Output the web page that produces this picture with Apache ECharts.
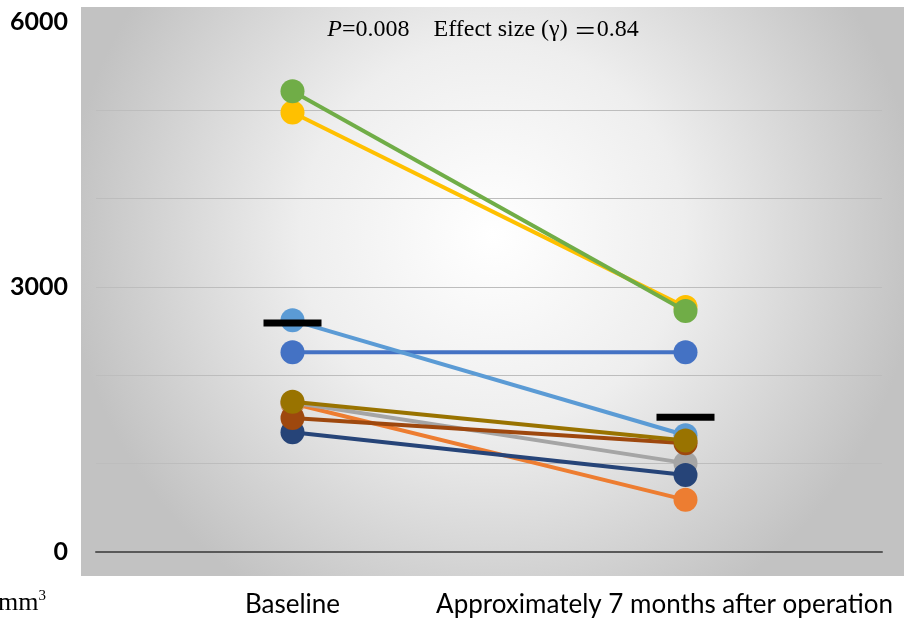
<!DOCTYPE html>
<html>
<head>
<meta charset="utf-8">
<script src="https://cdn.jsdelivr.net/npm/echarts@6/dist/echarts.min.js"></script>
<style>html,body{margin:0;padding:0;background:#fff}#c{width:904px;height:620px}</style>
</head>
<body>
<div id="c"></div>
<script>
const categories = ['Baseline', 'Approximately 7 months after operation'];
const yTicks = [0, 3000, 6000];
const seriesColors = ['#4472C4', '#ED7D31', '#A5A5A5', '#FFC000', '#5B9BD5', '#70AD47', '#264478', '#9E480E', '#997300'];
const s1 = [2260, 2260];
const s2 = [1680, 590];
const s3 = [1690, 1005];
const s4 = [4970, 2770];
const s5 = [2620, 1320];
const s6 = [5210, 2725];
const s7 = [1355, 870];
const s8 = [1515, 1230];
const s9 = [1700, 1260];
const means = [2590, 1525];
const titleP = 'P';
const titleA = '=0.008    Effect size (γ) ';
const titleB = '＝';
const titleC = '0.84';
const unitText = 'mm';

const allSeries = [s1, s2, s3, s4, s5, s6, s7, s8, s9];
const SANS = 'Lato, "Open Sans", sans-serif';
const SERIF = '"Liberation Serif", "Noto Sans CJK JP", serif';

const chart = echarts.init(document.getElementById('c'), null, {renderer: 'canvas'});
const series = allSeries.map((d, i) => ({
  type: 'line',
  data: d,
  symbol: 'circle',
  symbolSize: 24,
  showSymbol: true,
  lineStyle: {width: 4, color: seriesColors[i]},
  itemStyle: {color: seriesColors[i]},
  z: 2 + i * 0.01
}));
series.push({
  type: 'scatter',
  data: means,
  symbol: 'rect',
  symbolSize: [58, 7],
  itemStyle: {color: '#000', opacity: 1},
  z: 5
});

chart.setOption({
  animation: false,
  backgroundColor: '#fff',
  graphic: [
    {
      type: 'rect', left: 81, top: 7, z: -100,
      shape: {width: 823, height: 569},
      style: {
        fill: new echarts.graphic.RadialGradient(0.5, 0.4, 0.75, [
          {offset: 0, color: '#ffffff'},
          {offset: 0.45, color: '#eeeeee'},
          {offset: 1, color: '#c2c2c2'}
        ])
      }
    },
    {
      type: 'text', left: -2, top: 589, z: 10,
      style: {
        text: '{a|' + unitText + '}{s|3}',
        rich: {
          a: {fontFamily: SERIF, fontSize: 26, fill: '#000', color: '#000'},
          s: {fontFamily: SERIF, fontSize: 15, verticalAlign: 'top', fill: '#000', color: '#000', padding: [0, 0, 14, 0]}
        }
      }
    }
  ],
  title: {
    text: '{i|' + titleP + '}{r|' + titleA + '}{c|' + titleB + '}{r|' + titleC + '}',
    left: 478,
    textAlign: 'center',
    top: 13,
    textStyle: {
      fontWeight: 'normal',
      rich: {
        i: {fontFamily: SERIF, fontStyle: 'italic', fontWeight: 'normal', fontSize: 24, color: '#000'},
        r: {fontFamily: SERIF, fontWeight: 'normal', fontSize: 24, color: '#000'},
        c: {fontFamily: '"Noto Sans CJK JP", serif', fontWeight: 'normal', fontSize: 23, color: '#000'}
      }
    }
  },
  grid: {left: 96, right: 22, top: 21.5, bottom: 68, containLabel: false},
  xAxis: {
    type: 'category',
    data: categories,
    boundaryGap: true,
    axisLine: {show: true, lineStyle: {color: '#595959', width: 2}},
    axisTick: {show: false},
    axisLabel: {
      margin: 40,
      interval: 0,
      fontFamily: SANS,
      fontSize: 26,
      color: '#000',
      formatter: (v, i) => i === 1 ? '{b|' + v + '}' : '{a|' + v + '}',
      rich: {
        a: {fontFamily: SANS, fontSize: 26, color: '#000'},
        b: {fontFamily: SANS, fontSize: 26, color: '#000', padding: [0, 42, 0, 0]}
      }
    },
    splitLine: {show: false}
  },
  yAxis: {
    type: 'value',
    min: 0,
    max: 6000,
    interval: 1000,
    axisLine: {show: false},
    axisTick: {show: false},
    axisLabel: {
      margin: 28,
      fontFamily: SANS,
      fontWeight: 'bold',
      fontSize: 25,
      color: '#000',
      verticalAlign: 'middle',
      padding: [8, 0, 0, 0],
      formatter: v => yTicks.includes(v) ? String(v) : ''
    },
    splitLine: {
      show: true,
      lineStyle: {color: ['transparent', '#bdbdbd', '#bdbdbd', '#bdbdbd', '#bdbdbd', '#bdbdbd', 'transparent'], width: 1}
    }
  },
  series: series
});
</script>
</body>
</html>
